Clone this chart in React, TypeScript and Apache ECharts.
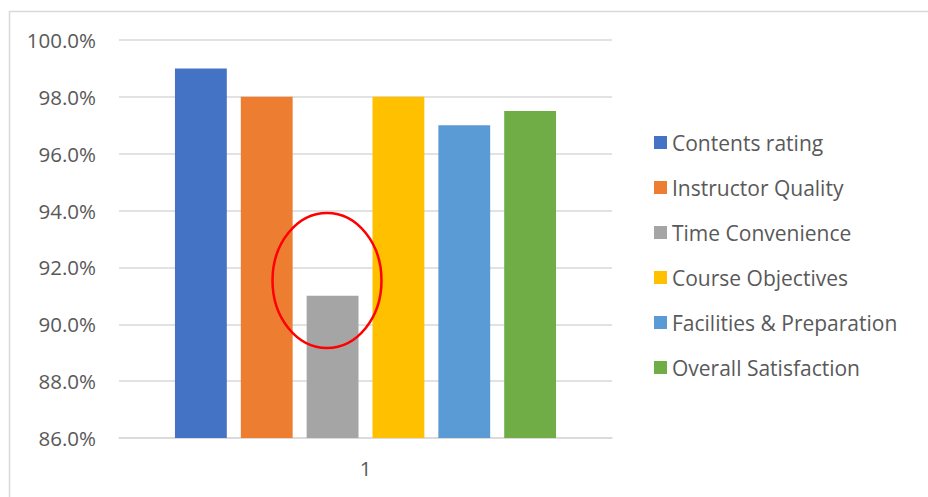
import React, { useEffect, useRef } from "react";
import * as echarts from "echarts";

const categories = ["1"];
const seriesNames = [
  "Contents rating",
  "Instructor Quality",
  "Time Convenience",
  "Course Objectives",
  "Facilities & Preparation",
  "Overall Satisfaction",
];
const seriesValues = [99.0, 98.0, 91.0, 98.0, 97.0, 97.5];
const seriesColors = ["#4472C4", "#ED7D31", "#A5A5A5", "#FFC000", "#5B9BD5", "#70AD47"];
const yMin = 86;
const yMax = 100;
const yStep = 2;

const FONT = "Open Sans";
const TEXT_COLOR = "#595959";

export default function App() {
  const ref = useRef<HTMLDivElement>(null);
  useEffect(() => {
    if (!ref.current) return;
    const chart = echarts.init(ref.current, null, { renderer: "svg" });
    chart.setOption({
      animation: false,
      backgroundColor: "#ffffff",
      textStyle: { fontFamily: FONT },
      grid: { left: 119, right: 316, top: 40, bottom: 59, containLabel: false },
      legend: {
        orient: "vertical",
        left: 654,
        top: 132,
        padding: 0,
        itemWidth: 13,
        itemHeight: 13,
        itemGap: 24,
        icon: "rect",
        data: seriesNames,
        textStyle: { fontFamily: FONT, fontSize: 21, color: TEXT_COLOR, lineHeight: 21 },
      },
      xAxis: {
        type: "category",
        data: categories,
        axisLine: { show: true, lineStyle: { color: "#d9d9d9", width: 1.5 } },
        axisTick: { show: false },
        axisLabel: { fontFamily: FONT, fontSize: 20.5, color: TEXT_COLOR, margin: 19 },
      },
      yAxis: {
        type: "value",
        min: yMin,
        max: yMax,
        interval: yStep,
        axisLine: { show: false },
        axisTick: { show: false },
        splitLine: { lineStyle: { color: "#d9d9d9", width: 1.5 } },
        axisLabel: {
          fontFamily: FONT,
          fontSize: 20.5,
          color: TEXT_COLOR,
          margin: 23,
          formatter: (v: number) => v.toFixed(1) + "%",
        },
      },
      series: seriesNames.map((name, i) => ({
        name,
        type: "bar",
        data: [seriesValues[i]],
        itemStyle: { color: seriesColors[i] },
        barGap: "27%",
        barCategoryGap: "22.7%",
      })),
      graphic: [
        {
          type: "rect",
          left: 7,
          top: 9,
          shape: { x: 0, y: 0, width: 940, height: 500 },
          style: { fill: "none", stroke: "#d9d9d9", lineWidth: 1.5 },
          silent: true,
          z: -1,
        },
        {
          type: "ellipse",
          shape: { cx: 327, cy: 280.5, rx: 54.5, ry: 67.5 },
          style: { fill: "none", stroke: "#ff0000", lineWidth: 2.5 },
          z: 100,
        },
      ],
    });
    return () => chart.dispose();
  }, []);
  return (
    <div
      ref={ref}
      style={{ position: "fixed", left: 0, top: 0, width: 928, height: 497, background: "#fff" }}
    />
  );
}
